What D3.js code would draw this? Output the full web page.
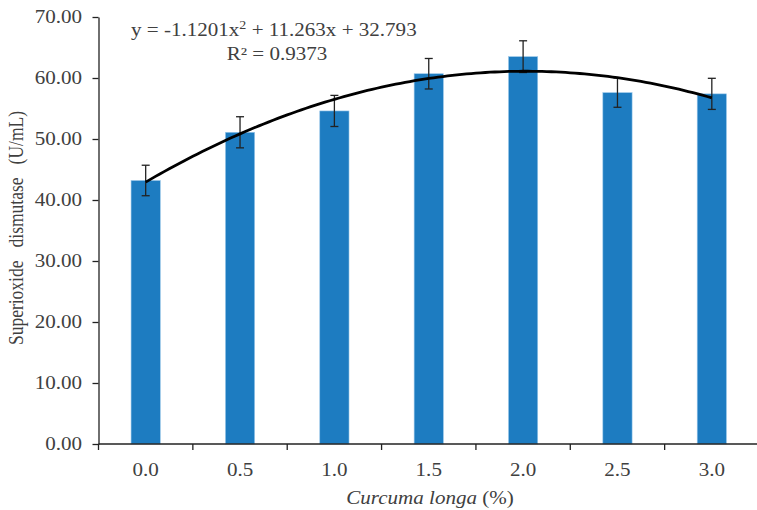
<!DOCTYPE html>
<html lang="en">
<head>
  <meta charset="UTF-8" />
  <title>Superoxide dismutase vs Curcuma longa</title>
  <script src="https://cdn.jsdelivr.net/npm/d3@7/dist/d3.min.js"></script>
  <style>
    html, body { margin: 0; padding: 0; background: #fff; }
    svg { display: block; font-family: "Liberation Serif", "DejaVu Serif", serif; }
  </style>
</head>
<body>
  <div id="chart"></div>
  <script>
    // data
    const levels = ["0.0", "0.5", "1.0", "1.5", "2.0", "2.5", "3.0"];
    const sodValues = [43.2, 51.1, 54.6, 60.7, 63.5, 57.6, 57.4];
    const sodErrors = [2.5, 2.55, 2.55, 2.5, 2.6, 2.4, 2.55];
    const yTicks = [0, 10, 20, 30, 40, 50, 60, 70];
    // trendline coefficients as printed on the chart (x = category number 1..7)
    const trendCoef = [-1.1201, 11.263, 32.793];

    const width = 757, height = 510;
    const margin = { left: 98.5, right: -2, top: 17, bottom: 66 };
    const textColor = "#404040";
    const barColor = "#1d7cc1";
    const axisColor = "#222";
    const stretch = 1.17; // the original's text is a little wide

    const svg = d3.select("#chart").append("svg")
      .attr("width", width)
      .attr("height", height);

    // text drawn around an anchor point and widened a bit
    function wideText(px, py, anchor, size) {
      return svg.append("text")
        .attr("transform", `translate(${px},${py}) scale(${stretch},1)`)
        .attr("text-anchor", anchor)
        .attr("font-size", size)
        .attr("fill", textColor);
    }

    const x = d3.scaleBand()
      .domain(levels)
      .range([margin.left, width - margin.right])
      .paddingInner(0.69)
      .paddingOuter(0.345);

    const y = d3.scaleLinear()
      .domain([0, 70])
      .range([height - margin.bottom, margin.top]);

    // bars
    svg.append("g").selectAll("rect")
      .data(levels)
      .join("rect")
      .attr("x", d => x(d))
      .attr("y", (d, i) => y(sodValues[i]))
      .attr("width", x.bandwidth())
      .attr("height", (d, i) => y(0) - y(sodValues[i]))
      .attr("fill", barColor)
      .attr("stroke", "#9cc8ea")
      .attr("stroke-width", 0.6);

    // error bars
    const eb = svg.append("g").attr("stroke", axisColor).attr("stroke-width", 1.3);
    levels.forEach((d, i) => {
      const cx = x(d) + x.bandwidth() / 2;
      const top = y(sodValues[i] + sodErrors[i]);
      const bot = y(sodValues[i] - sodErrors[i]);
      eb.append("line").attr("x1", cx).attr("x2", cx).attr("y1", top).attr("y2", bot);
      eb.append("line").attr("x1", cx - 4).attr("x2", cx + 4).attr("y1", top).attr("y2", top);
      eb.append("line").attr("x1", cx - 4).attr("x2", cx + 4).attr("y1", bot).attr("y2", bot);
    });

    // polynomial trendline
    const xLin = d3.scaleLinear()
      .domain([1, levels.length])
      .range([x(levels[0]) + x.bandwidth() / 2, x(levels[levels.length - 1]) + x.bandwidth() / 2]);
    const trendPts = d3.range(1, levels.length + 0.001, 0.05).map(t => [t,
      trendCoef[0] * t * t + trendCoef[1] * t + trendCoef[2]]);
    svg.append("path")
      .datum(trendPts)
      .attr("fill", "none")
      .attr("stroke", "#000")
      .attr("stroke-width", 2.8)
      .attr("d", d3.line().x(d => xLin(d[0])).y(d => y(d[1])));

    // y axis
    const yAxis = svg.append("g")
      .attr("transform", `translate(${margin.left},0)`)
      .call(d3.axisLeft(y).tickValues(yTicks).tickSize(6).tickSizeOuter(0).tickFormat(() => ""));
    yAxis.select(".domain").attr("stroke", axisColor).attr("stroke-width", 1.3);
    yAxis.selectAll(".tick line").attr("stroke", axisColor).attr("stroke-width", 1.3);
    yTicks.forEach(v => {
      wideText(82, y(v) + 6, "end", 18).text(d3.format(".2f")(v));
    });

    // x axis
    const xTickPos = levels.map((d, i) => margin.left + i * x.step());
    xTickPos.push(width - margin.right);
    const xAxis = svg.append("g");
    xAxis.append("line")
      .attr("x1", margin.left).attr("x2", width)
      .attr("y1", y(0)).attr("y2", y(0))
      .attr("stroke", axisColor).attr("stroke-width", 1.3);
    xAxis.selectAll("line.tk")
      .data(xTickPos)
      .join("line")
      .attr("class", "tk")
      .attr("x1", d => d).attr("x2", d => d)
      .attr("y1", y(0)).attr("y2", y(0) + 6)
      .attr("stroke", axisColor).attr("stroke-width", 1.3);
    levels.forEach(d => {
      wideText(x(d) + x.bandwidth() / 2, 475.5, "middle", 18).text(d);
    });

    // axis titles
    const xt = wideText(430, 504, "middle", 18);
    xt.append("tspan").attr("font-style", "italic").text("Curcuma longa");
    xt.append("tspan").text(" (%)");

    svg.append("text")
      .attr("transform", `translate(23,228) scale(${stretch},1) rotate(-90)`)
      .attr("text-anchor", "middle")
      .attr("font-size", 17.5)
      .attr("fill", textColor)
      .style("white-space", "pre")
      .text("Superioxide   dismutase   (U/mL)");

    // equation
    const eq = wideText(131, 36, "start", 18);
    eq.append("tspan").text("y = -1.1201x");
    eq.append("tspan").attr("font-size", 12).attr("dy", -7).text("2");
    eq.append("tspan").attr("dy", 7).text(" + 11.263x + 32.793");

    wideText(277, 60, "middle", 18).text("R² = 0.9373");
  </script>
</body>
</html>
